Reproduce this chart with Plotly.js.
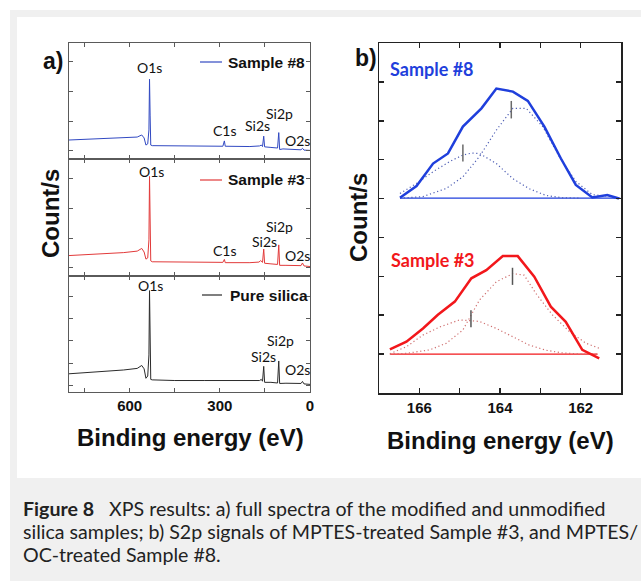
<!DOCTYPE html>
<html><head><meta charset="utf-8">
<script src="https://cdn.plot.ly/plotly-3.0.1.min.js"></script>
<style>html,body{margin:0;padding:0;background:#fff}#chart{width:641px;height:581px}</style>
</head><body><div id="chart"></div>
<script>
// ---------- DATA ----------
// a) survey spectra (binding energy eV, counts in arbitrary units)
const survey8E = [802,700,620,575,560,552,546,540,536,534,532,530,525,450,350,290,285,282,200,168,162,158,154,151,130,108,104,101,90,60,30,25,20,0];
const survey8Y = [1.36,1.40,1.43,1.46,1.53,1.43,1.19,1.23,1.70,3.41,2.20,1.19,1.17,1.16,1.16,1.15,1.33,1.15,1.14,1.16,1.19,1.14,1.49,1.13,1.11,1.09,1.61,1.04,1.06,1.04,1.03,1.08,1.02,1.01];
const survey3E = [802,700,620,575,560,552,546,540,536,534,532,530,525,450,350,290,285,282,200,170,164,158,154,151,130,108,104,101,80,30,25,20,0];
const survey3Y = [1.41,1.46,1.51,1.56,1.65,1.53,1.29,1.33,1.94,4.08,2.44,1.23,1.20,1.19,1.18,1.18,1.28,1.17,1.17,1.19,1.24,1.18,1.63,1.15,1.13,1.11,1.77,1.08,1.08,1.07,1.16,1.06,1.04];
const surveyPE = [802,700,620,575,560,552,546,540,536,534,532,530,525,450,350,250,200,168,162,158,154,151,130,108,104,101,80,30,25,20,0];
const surveyPY = [1.54,1.62,1.71,1.78,1.91,1.76,1.34,1.44,2.38,5.24,3.04,1.29,1.27,1.24,1.24,1.23,1.22,1.24,1.29,1.21,1.87,1.16,1.16,1.13,2.11,1.11,1.12,1.11,1.20,1.09,1.07];
const surveyXTicks = [750,600,450,300,150,0];
const surveyXLabels = ['','600','','300','','0'];

// b) S2p signals
const s8E = [166.48,166.07,165.66,165.29,164.92,164.46,164.09,163.68,163.31,162.90,162.49,162.12,161.71,161.34,161.05];
const s8Y = [5.02,5.32,5.90,6.16,6.85,7.32,7.83,7.75,7.51,6.85,6.03,5.35,5.03,5.09,5.00];
const s8BaseE = [166.48,161.02];
const s8BaseY = [5.01,5.01];
const s8C1E = [166.48,166.07,165.66,165.25,164.92,164.7,164.51,164.09,163.68,163.27,162.86,162.45,162.0];
const s8C1Y = [5.13,5.39,5.69,5.95,6.12,6.17,6.16,5.90,5.51,5.25,5.08,5.02,5.01];
const s8C2E = [166.48,165.91,165.33,164.92,164.51,164.09,163.68,163.35,162.94,162.53,162.12,161.71,161.21];
const s8C2Y = [5.01,5.05,5.26,5.56,6.08,6.76,7.32,7.32,6.85,6.08,5.44,5.10,5.05];
const s8MarkE = [164.92,163.72];
const s8MarkLo = [5.95,7.06];
const s8MarkHi = [6.39,7.51];

const s3E = [166.73,166.32,165.91,165.54,165.12,164.71,164.34,163.93,163.56,163.15,162.74,162.37,161.96,161.54];
const s3Y = [1.12,1.32,1.66,2.01,2.35,2.95,3.16,3.52,3.52,2.99,2.22,1.83,1.11,0.89];
const s3BaseE = [166.73,161.58];
const s3BaseY = [1.0,1.0];
const s3C1E = [166.73,166.32,165.91,165.49,165.0,164.51,164.09,163.68,163.27,162.86,162.45,161.96,161.55];
const s3C1Y = [1.01,1.19,1.49,1.70,1.88,1.84,1.66,1.45,1.23,1.10,1.03,1.0,1.0];
const s3C2E = [166.73,166.32,165.74,165.33,164.92,164.51,164.09,163.68,163.40,163.11,162.70,162.28,161.87,161.54];
const s3C2Y = [1.0,1.02,1.11,1.28,1.62,2.39,2.86,3.07,3.03,2.56,2.01,1.58,1.28,1.15];
const s3MarkE = [164.72,163.69];
const s3MarkLo = [1.69,2.78];
const s3MarkHi = [2.13,3.22];
const s2pXTicks = [166,165,164,163,162];
const s2pXLabels = ['166','','164','','162'];

// ---------- LAYOUT HELPERS ----------
const W = 641, H = 581;
const px = v => v / W;
const py = v => 1 - v / H;
const ARIAL = 'Liberation Sans, Arial, sans-serif';
const CAL = 'Lato, Open Sans, sans-serif';
const BLUE = '#1f3fdc', RED = '#f2171b';
const DOT = '1.2px,2.6px';

function segs(E, lo, hi) {
  const x = [], y = [];
  E.forEach((e, i) => { x.push(e, e, null); y.push(lo[i], hi[i], null); });
  return {x, y};
}

const traces = [
  {x: surveyPE, y: surveyPY, xaxis: 'x', yaxis: 'y', mode: 'lines', line: {color: '#2b2b2b', width: 1}},
  {x: survey3E, y: survey3Y, xaxis: 'x2', yaxis: 'y2', mode: 'lines', line: {color: '#e23a3a', width: 1}},
  {x: survey8E, y: survey8Y, xaxis: 'x3', yaxis: 'y3', mode: 'lines', line: {color: '#3149c2', width: 1}},
  // b) Sample #8
  {x: s8BaseE, y: s8BaseY, xaxis: 'x4', yaxis: 'y4', mode: 'lines', line: {color: BLUE, width: 1.2}},
  {x: s8C1E, y: s8C1Y, xaxis: 'x4', yaxis: 'y4', mode: 'lines', line: {color: '#4f5fb5', width: 1.2, dash: DOT}},
  {x: s8C2E, y: s8C2Y, xaxis: 'x4', yaxis: 'y4', mode: 'lines', line: {color: '#4f5fb5', width: 1.2, dash: DOT}},
  {x: s8E, y: s8Y, xaxis: 'x4', yaxis: 'y4', mode: 'lines', line: {color: BLUE, width: 2.5}},
  Object.assign({xaxis: 'x4', yaxis: 'y4', mode: 'lines', line: {color: '#6a6a6a', width: 1.5}}, segs(s8MarkE, s8MarkLo, s8MarkHi)),
  // b) Sample #3
  {x: s3BaseE, y: s3BaseY, xaxis: 'x4', yaxis: 'y4', mode: 'lines', line: {color: RED, width: 1.2}},
  {x: s3C1E, y: s3C1Y, xaxis: 'x4', yaxis: 'y4', mode: 'lines', line: {color: '#cf6f6f', width: 1.2, dash: DOT}},
  {x: s3C2E, y: s3C2Y, xaxis: 'x4', yaxis: 'y4', mode: 'lines', line: {color: '#cf6f6f', width: 1.2, dash: DOT}},
  {x: s3E, y: s3Y, xaxis: 'x4', yaxis: 'y4', mode: 'lines', line: {color: RED, width: 2.5}},
  Object.assign({xaxis: 'x4', yaxis: 'y4', mode: 'lines', line: {color: '#555555', width: 1.5}}, segs(s3MarkE, s3MarkLo, s3MarkHi)),
];

const aDomX = [px(69), px(310)];
const bDomX = [px(379), px(621)];
const baseAx = {showgrid: false, zeroline: false, showline: true, mirror: 'ticks', ticks: 'inside', fixedrange: true};
const aLine = {linecolor: '#5a5a5a', linewidth: 1, tickcolor: '#5a5a5a', ticklen: 4, tickwidth: 1};
const bLine = {linecolor: '#222', linewidth: 1.5, tickcolor: '#222', ticklen: 5, tickwidth: 1.5};
const tickFont = {family: ARIAL, size: 15, color: '#111', weight: 700};

const layout = {
  width: W, height: H, margin: {l: 0, r: 0, t: 0, b: 0},
  paper_bgcolor: '#ffffff', plot_bgcolor: 'rgba(0,0,0,0)', showlegend: false,
  xaxis: Object.assign({}, baseAx, aLine, {domain: aDomX, anchor: 'y', range: [802, 0], tickvals: surveyXTicks, ticktext: surveyXLabels, tickfont: tickFont}),
  xaxis2: Object.assign({}, baseAx, aLine, {domain: aDomX, anchor: 'y2', range: [802, 0], tickvals: surveyXTicks, showticklabels: false}),
  xaxis3: Object.assign({}, baseAx, aLine, {domain: aDomX, anchor: 'y3', range: [802, 0], tickvals: surveyXTicks, showticklabels: false}),
  yaxis: Object.assign({}, baseAx, aLine, {domain: [py(392), py(276)], anchor: 'x', range: [0.73, 5.89], tickvals: [1,2,3,4,5], showticklabels: false}),
  yaxis2: Object.assign({}, baseAx, aLine, {domain: [py(276), py(159)], anchor: 'x2', range: [0.72, 4.67], tickvals: [1,2,3,4], showticklabels: false}),
  yaxis3: Object.assign({}, baseAx, aLine, {domain: [py(159), py(43)], anchor: 'x3', range: [0.72, 4.63], tickvals: [1,2,3,4], showticklabels: false}),
  xaxis4: Object.assign({}, baseAx, bLine, {domain: bDomX, anchor: 'y4', range: [167, 161], tickvals: s2pXTicks, ticktext: s2pXLabels, tickfont: tickFont}),
  yaxis4: Object.assign({}, baseAx, bLine, {domain: [py(393), py(43)], anchor: 'x4', range: [0, 9], tickvals: [1,2,3,4,5,6,7,8], showticklabels: false}),
  shapes: [
    {type: 'rect', xref: 'paper', yref: 'paper', x0: px(10), x1: 1.01, y0: -0.01, y1: py(10), fillcolor: '#f0f0f0', line: {width: 0}, layer: 'below'},
    {type: 'rect', xref: 'paper', yref: 'paper', x0: px(17), x1: 1.01, y0: py(478), y1: py(17), fillcolor: '#ffffff', line: {width: 0}, layer: 'below'},
    {type: 'line', xref: 'paper', yref: 'paper', x0: px(200), x1: px(222), y0: py(62), y1: py(62), line: {color: '#3149c2', width: 1.2}},
    {type: 'line', xref: 'paper', yref: 'paper', x0: px(200), x1: px(222), y0: py(180), y1: py(180), line: {color: '#e23a3a', width: 1.2}},
    {type: 'line', xref: 'paper', yref: 'paper', x0: px(202), x1: px(222), y0: py(295), y1: py(295), line: {color: '#2b2b2b', width: 1.2}},
  ],
  annotations: []
};

function ann(text, x, y, opts) {
  layout.annotations.push(Object.assign({text: text, xref: 'paper', yref: 'paper', x: px(x), y: py(y), showarrow: false, xanchor: 'center', yanchor: 'middle', borderpad: 0, font: {family: CAL, size: 14, color: '#111'}}, opts || {}));
}
// peak labels
[['O1s',149,67],['C1s',224.5,130],['Si2s',257,125.5],['Si2p',279,113],['O2s',297,140.5],
 ['O1s',151,172],['C1s',225,250],['Si2s',264,241.5],['Si2p',279.5,227],['O2s',297,255],
 ['O1s',150.5,285.5],['Si2p',280,340],['Si2s',263.5,356.5],['O2s',297,369.5]].forEach(p => ann(p[0], p[1], p[2]));
// legends in a)
const legFont = {family: ARIAL, size: 15.5, color: '#111', weight: 700};
ann('Sample #8', 227, 62, {xanchor: 'left', font: legFont});
ann('Sample #3', 227, 180, {xanchor: 'left', font: legFont});
ann('Pure silica', 228.5, 295, {xanchor: 'left', font: legFont});
// panel letters
ann('a)', 53, 61, {font: {family: ARIAL, size: 23, color: '#111', weight: 700}});
ann('b)', 366, 58, {font: {family: ARIAL, size: 23, color: '#111', weight: 700}});
// axis titles
const titleFont = {family: ARIAL, size: 24, color: '#111', weight: 700};
ann('Count/s', 51, 214, {textangle: -90, font: titleFont});
ann('Count/s', 358, 218, {textangle: -90, font: titleFont});
ann('Binding energy (eV)', 190, 437, {font: titleFont});
ann('Binding energy (eV)', 500, 440, {font: titleFont});
// sample labels in b)
ann('Sample #8', 389, 69, {xanchor: 'left', font: {family: CAL, size: 18, color: BLUE, weight: 700}});
ann('Sample #3', 390, 260, {xanchor: 'left', font: {family: CAL, size: 18, color: RED, weight: 700}});
// caption
const capFont = {family: CAL, size: 19.6, color: '#222'};
ann('<b>Figure 8</b>   XPS results: a) full spectra of the modified and unmodified', 22, 508, {xanchor: 'left', font: capFont});
ann('silica samples; b) S2p signals of MPTES-treated Sample #3, and MPTES/', 22, 531, {xanchor: 'left', font: capFont});
ann('OC-treated Sample #8.', 22, 554, {xanchor: 'left', font: capFont});

Plotly.newPlot('chart', traces, layout, {displayModeBar: false, staticPlot: true});
</script>
</body></html>
